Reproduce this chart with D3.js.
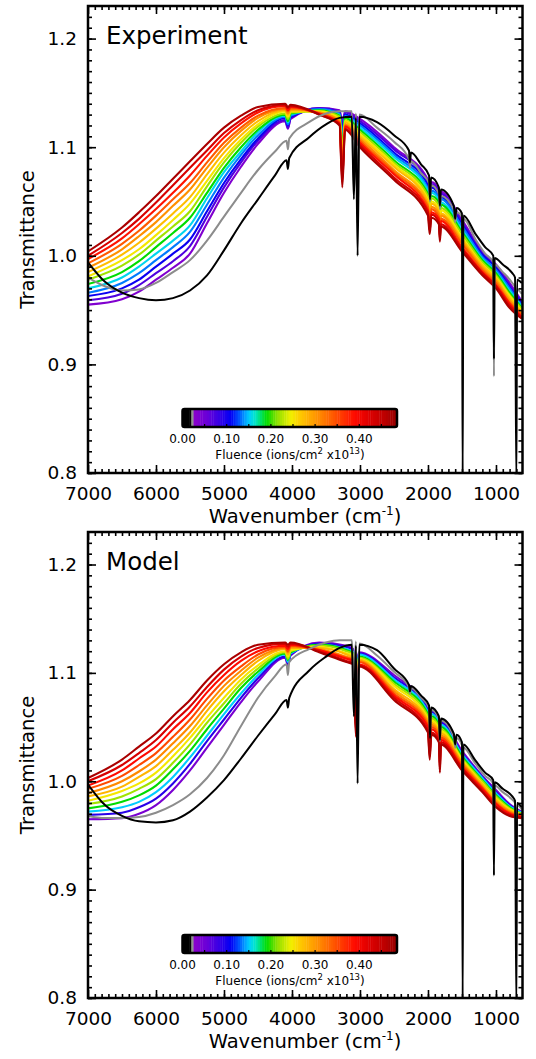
<!DOCTYPE html>
<html><head><meta charset="utf-8">
<script src="https://cdn.jsdelivr.net/npm/d3@7"></script>
<style>
html,body{margin:0;padding:0;background:#fff;}
svg{display:block;}
</style></head><body>
<svg id="chart" width="536" height="1059"></svg>
<script>
// ---------------- DATA ----------------
const xTickValues = [7000, 6000, 5000, 4000, 3000, 2000, 1000];
const yTickValues = [0.8, 0.9, 1.0, 1.1, 1.2];
const cbTickValues = [0.00, 0.10, 0.20, 0.30, 0.40];
const panelTitles = ['Experiment', 'Model'];

// fluence -> colour (colour bar of the figure)
const fluenceStops  = [0, 0.022, 0.0225, 0.027, 0.0275, 0.055, 0.085, 0.11, 0.13, 0.15, 0.165, 0.19, 0.215, 0.245, 0.27, 0.30, 0.33, 0.36, 0.39, 0.42, 0.455, 0.49];
const fluenceColors = ['#000000','#000000','#909090','#909090','#8800cc','#6a00d8','#3300e6','#0000f5','#0060ff','#00ccff','#00e6c8','#00dc00','#90e000','#f2f000','#ffc400','#ff9800','#ff6a00','#ff3a00','#ff0a00','#e00000','#c00000','#8c0000'];

// experiment: irradiated spectra (one row per wavenumber, one column per fluence)
const expFluence = [0.035, 0.07, 0.105, 0.135, 0.155, 0.19, 0.22, 0.25, 0.275, 0.305, 0.34, 0.385, 0.43, 0.47];
const expWn = [7000, 6500, 6250, 6000, 5750, 5500, 5250, 5000, 4750, 4500, 4100, 4060, 4020, 3600, 3300, 3260, 3220, 3000, 2500, 2000, 1975, 1950, 1840, 1825, 1810, 1500, 1200, 1000, 800, 620];
const expRows = [
 [0.955, 0.959, 0.963, 0.966, 0.970, 0.974, 0.978, 0.981, 0.985, 0.989, 0.993, 0.997, 1.000, 1.004],
 [0.960, 0.965, 0.970, 0.975, 0.980, 0.985, 0.991, 0.996, 1.001, 1.006, 1.011, 1.016, 1.021, 1.026],
 [0.967, 0.973, 0.978, 0.984, 0.990, 0.995, 1.001, 1.006, 1.012, 1.018, 1.023, 1.029, 1.034, 1.040],
 [0.978, 0.984, 0.990, 0.996, 1.002, 1.008, 1.014, 1.019, 1.025, 1.031, 1.037, 1.043, 1.049, 1.055],
 [0.989, 0.995, 1.002, 1.008, 1.014, 1.021, 1.027, 1.033, 1.039, 1.046, 1.052, 1.058, 1.065, 1.071],
 [1.002, 1.009, 1.015, 1.022, 1.028, 1.035, 1.041, 1.048, 1.054, 1.061, 1.067, 1.074, 1.081, 1.087],
 [1.030, 1.036, 1.041, 1.047, 1.053, 1.058, 1.064, 1.069, 1.075, 1.081, 1.086, 1.092, 1.097, 1.103],
 [1.058, 1.063, 1.067, 1.072, 1.077, 1.081, 1.086, 1.090, 1.095, 1.100, 1.104, 1.109, 1.113, 1.118],
 [1.082, 1.086, 1.089, 1.093, 1.096, 1.100, 1.104, 1.107, 1.111, 1.115, 1.118, 1.122, 1.125, 1.129],
 [1.103, 1.106, 1.108, 1.111, 1.114, 1.116, 1.119, 1.121, 1.124, 1.127, 1.129, 1.132, 1.134, 1.137],
 [1.124, 1.125, 1.127, 1.128, 1.129, 1.130, 1.131, 1.133, 1.134, 1.135, 1.136, 1.138, 1.139, 1.140],
 [1.117, 1.118, 1.120, 1.121, 1.123, 1.124, 1.126, 1.128, 1.130, 1.131, 1.133, 1.134, 1.136, 1.137],
 [1.126, 1.127, 1.128, 1.129, 1.130, 1.131, 1.132, 1.133, 1.134, 1.135, 1.136, 1.137, 1.138, 1.139],
 [1.136, 1.136, 1.135, 1.135, 1.134, 1.134, 1.133, 1.133, 1.132, 1.132, 1.131, 1.131, 1.130, 1.130],
 [1.134, 1.133, 1.132, 1.131, 1.130, 1.129, 1.128, 1.126, 1.125, 1.124, 1.123, 1.122, 1.121, 1.120],
 [1.122, 1.118, 1.113, 1.108, 1.104, 1.099, 1.095, 1.090, 1.086, 1.081, 1.077, 1.072, 1.068, 1.063],
 [1.133, 1.132, 1.130, 1.129, 1.128, 1.127, 1.125, 1.124, 1.123, 1.121, 1.120, 1.119, 1.117, 1.116],
 [1.126, 1.124, 1.122, 1.120, 1.118, 1.116, 1.114, 1.112, 1.110, 1.108, 1.106, 1.104, 1.102, 1.100],
 [1.100, 1.098, 1.095, 1.093, 1.091, 1.088, 1.086, 1.084, 1.082, 1.079, 1.077, 1.075, 1.072, 1.070],
 [1.070, 1.068, 1.065, 1.062, 1.060, 1.057, 1.055, 1.052, 1.050, 1.047, 1.045, 1.042, 1.040, 1.037],
 [1.057, 1.054, 1.051, 1.049, 1.046, 1.043, 1.040, 1.037, 1.034, 1.031, 1.029, 1.026, 1.023, 1.020],
 [1.068, 1.066, 1.063, 1.060, 1.058, 1.055, 1.053, 1.050, 1.048, 1.045, 1.043, 1.040, 1.038, 1.035],
 [1.061, 1.059, 1.056, 1.054, 1.051, 1.049, 1.046, 1.044, 1.041, 1.039, 1.036, 1.034, 1.031, 1.029],
 [1.047, 1.044, 1.042, 1.039, 1.037, 1.034, 1.031, 1.029, 1.026, 1.024, 1.021, 1.018, 1.016, 1.013],
 [1.059, 1.057, 1.054, 1.052, 1.049, 1.047, 1.044, 1.042, 1.039, 1.037, 1.034, 1.032, 1.029, 1.027],
 [1.033, 1.031, 1.029, 1.027, 1.024, 1.022, 1.020, 1.017, 1.015, 1.013, 1.011, 1.008, 1.006, 1.004],
 [1.004, 1.002, 1.001, 0.999, 0.997, 0.996, 0.994, 0.992, 0.991, 0.989, 0.987, 0.985, 0.984, 0.982],
 [0.992, 0.990, 0.989, 0.987, 0.985, 0.984, 0.982, 0.980, 0.979, 0.977, 0.975, 0.973, 0.972, 0.970],
 [0.975, 0.973, 0.971, 0.970, 0.968, 0.966, 0.964, 0.963, 0.961, 0.959, 0.957, 0.956, 0.954, 0.952],
 [0.958, 0.957, 0.956, 0.954, 0.953, 0.952, 0.951, 0.949, 0.948, 0.947, 0.946, 0.944, 0.943, 0.942]
];

// model: one row per wavenumber, one column per fluence
const modelFluence = [0.04, 0.09, 0.15, 0.19, 0.22, 0.25, 0.28, 0.31, 0.35, 0.39, 0.43, 0.47];
const modelWn = [7000, 6500, 6250, 6000, 5750, 5500, 5250, 5000, 4750, 4500, 4100, 4060, 4020, 3600, 3200, 3100, 3060, 3020, 2500, 2000, 1975, 1950, 1840, 1825, 1810, 1500, 1200, 1000, 800, 620];
const modelRows = [
 [0.965, 0.969, 0.972, 0.975, 0.979, 0.982, 0.986, 0.989, 0.993, 0.996, 1.000, 1.003],
 [0.966, 0.971, 0.976, 0.981, 0.986, 0.991, 0.995, 1.000, 1.005, 1.010, 1.015, 1.020],
 [0.970, 0.976, 0.981, 0.987, 0.993, 0.998, 1.004, 1.009, 1.015, 1.021, 1.026, 1.032],
 [0.978, 0.984, 0.990, 0.996, 1.002, 1.008, 1.014, 1.020, 1.026, 1.032, 1.038, 1.044],
 [0.992, 0.998, 1.004, 1.011, 1.017, 1.023, 1.029, 1.035, 1.041, 1.048, 1.054, 1.060],
 [1.010, 1.016, 1.022, 1.028, 1.034, 1.040, 1.045, 1.051, 1.057, 1.063, 1.069, 1.075],
 [1.031, 1.037, 1.042, 1.048, 1.054, 1.059, 1.065, 1.070, 1.076, 1.082, 1.087, 1.093],
 [1.052, 1.057, 1.062, 1.067, 1.072, 1.077, 1.083, 1.088, 1.093, 1.098, 1.103, 1.108],
 [1.073, 1.077, 1.081, 1.086, 1.090, 1.094, 1.098, 1.102, 1.106, 1.111, 1.115, 1.119],
 [1.092, 1.095, 1.098, 1.101, 1.104, 1.107, 1.111, 1.114, 1.117, 1.120, 1.123, 1.126],
 [1.114, 1.115, 1.117, 1.118, 1.119, 1.120, 1.122, 1.123, 1.124, 1.125, 1.127, 1.128],
 [1.107, 1.109, 1.110, 1.112, 1.113, 1.115, 1.117, 1.119, 1.120, 1.122, 1.124, 1.126],
 [1.116, 1.117, 1.118, 1.119, 1.120, 1.121, 1.123, 1.124, 1.125, 1.126, 1.127, 1.128],
 [1.128, 1.127, 1.126, 1.126, 1.125, 1.124, 1.123, 1.122, 1.121, 1.121, 1.120, 1.119],
 [1.125, 1.124, 1.122, 1.121, 1.120, 1.118, 1.117, 1.115, 1.114, 1.113, 1.111, 1.110],
 [1.122, 1.121, 1.119, 1.118, 1.117, 1.116, 1.114, 1.113, 1.112, 1.111, 1.109, 1.108],
 [1.090, 1.086, 1.081, 1.077, 1.072, 1.068, 1.063, 1.059, 1.054, 1.050, 1.046, 1.041],
 [1.119, 1.118, 1.117, 1.115, 1.114, 1.113, 1.112, 1.111, 1.110, 1.108, 1.107, 1.106],
 [1.098, 1.096, 1.094, 1.092, 1.090, 1.088, 1.085, 1.083, 1.081, 1.079, 1.077, 1.075],
 [1.068, 1.066, 1.064, 1.062, 1.060, 1.058, 1.056, 1.054, 1.052, 1.050, 1.047, 1.045],
 [1.056, 1.053, 1.049, 1.046, 1.043, 1.040, 1.036, 1.033, 1.030, 1.027, 1.023, 1.020],
 [1.066, 1.064, 1.062, 1.060, 1.058, 1.056, 1.054, 1.052, 1.050, 1.048, 1.045, 1.043],
 [1.058, 1.056, 1.054, 1.052, 1.050, 1.048, 1.046, 1.044, 1.042, 1.040, 1.038, 1.036],
 [1.046, 1.043, 1.039, 1.036, 1.032, 1.029, 1.025, 1.022, 1.018, 1.015, 1.011, 1.008],
 [1.056, 1.054, 1.052, 1.050, 1.048, 1.046, 1.044, 1.042, 1.040, 1.038, 1.036, 1.034],
 [1.028, 1.026, 1.025, 1.023, 1.021, 1.020, 1.018, 1.017, 1.015, 1.013, 1.012, 1.010],
 [1.005, 1.004, 1.003, 1.001, 1.000, 0.998, 0.997, 0.995, 0.994, 0.993, 0.991, 0.990],
 [0.992, 0.990, 0.989, 0.987, 0.986, 0.984, 0.983, 0.981, 0.980, 0.979, 0.977, 0.976],
 [0.979, 0.978, 0.977, 0.976, 0.975, 0.974, 0.973, 0.972, 0.971, 0.970, 0.969, 0.968],
 [0.972, 0.971, 0.971, 0.970, 0.970, 0.969, 0.969, 0.968, 0.968, 0.967, 0.967, 0.966]
];

// pristine (black) and lowest-fluence (grey) spectra
const refWn = [7000, 6750, 6500, 6250, 6000, 5750, 5500, 5250, 5000, 4750, 4500, 4250, 4080, 4060, 4040, 3750, 3500, 3300, 3120, 3090, 3060, 3035, 3010, 2750, 2500, 2280, 2265, 2250, 2100, 1985, 1970, 1955, 1840, 1825, 1810, 1620, 1600, 1580, 1500, 1490, 1480, 1300, 1160, 1040, 1030, 1020, 900, 760, 720, 700, 690, 620];
const expBlack = [0.994, 0.976, 0.966, 0.961, 0.959, 0.961, 0.968, 0.982, 1.005, 1.030, 1.052, 1.074, 1.088, 1.080, 1.090, 1.109, 1.121, 1.127, 1.128, 1.052, 1.127, 1.000, 1.128, 1.123, 1.111, 1.097, 1.086, 1.095, 1.084, 1.074, 1.052, 1.072, 1.063, 1.046, 1.061, 1.046, 1.034, 1.044, 1.039, 0.790, 1.037, 1.020, 1.008, 1.000, 0.905, 0.998, 0.992, 0.984, 0.980, 0.790, 0.978, 0.975];
const expGray  = [0.980, 0.972, 0.968, 0.969, 0.975, 0.985, 0.996, 1.014, 1.036, 1.058, 1.079, 1.096, 1.106, 1.098, 1.108, 1.123, 1.131, 1.133, 1.133, 1.062, 1.131, 1.030, 1.130, 1.118, 1.105, 1.089, 1.081, 1.087, 1.076, 1.067, 1.050, 1.065, 1.057, 1.043, 1.055, 1.042, 1.031, 1.040, 1.036, 0.950, 1.034, 1.015, 1.002, 0.994, 0.889, 0.992, 0.985, 0.975, 0.971, 0.900, 0.969, 0.965];
const modelBlack = [0.997, 0.978, 0.968, 0.963, 0.962, 0.964, 0.972, 0.985, 1.001, 1.021, 1.042, 1.062, 1.075, 1.068, 1.077, 1.102, 1.115, 1.123, 1.126, 1.060, 1.125, 0.998, 1.126, 1.121, 1.104, 1.089, 1.083, 1.088, 1.079, 1.070, 1.040, 1.068, 1.060, 1.038, 1.058, 1.044, 1.034, 1.043, 1.036, 0.790, 1.034, 1.019, 1.008, 1.001, 0.913, 0.999, 0.993, 0.986, 0.982, 0.790, 0.980, 0.976];
const modelGray  = [0.968, 0.966, 0.966, 0.967, 0.971, 0.978, 0.988, 1.003, 1.024, 1.051, 1.077, 1.097, 1.108, 1.098, 1.110, 1.122, 1.128, 1.130, 1.130, 1.095, 1.129, 1.040, 1.127, 1.116, 1.101, 1.087, 1.081, 1.086, 1.077, 1.068, 1.042, 1.066, 1.058, 1.037, 1.056, 1.041, 1.031, 1.040, 1.033, 0.950, 1.031, 1.016, 1.005, 0.998, 0.930, 0.996, 0.990, 0.983, 0.980, 0.900, 0.978, 0.974];

// ---------------- DRAWING ----------------
const FONT = '"DejaVu Sans", "Liberation Sans", Arial, sans-serif';
const svg = d3.select('#chart').attr('font-family', FONT);
const plotLeft = 88, plotRight = 522.5;
const panelBoxes = [{top: 6, bottom: 473}, {top: 532, bottom: 998}];
const x = d3.scaleLinear().domain([7000, 610]).range([plotLeft, plotRight]);
const color = d3.scaleLinear().domain(fluenceStops).range(fluenceColors).interpolate(d3.interpolateRgb).clamp(true);

const panels = [
  {wn: expWn, rows: expRows, fluence: expFluence, black: expBlack, gray: expGray},
  {wn: modelWn, rows: modelRows, fluence: modelFluence, black: modelBlack, gray: modelGray}
];

function styleAxis(sel, fontSize) {
  sel.select('.domain').remove();
  sel.attr('font-family', FONT).attr('font-size', fontSize);
  sel.selectAll('line').attr('stroke', '#000').attr('stroke-width', 1.6);
  sel.selectAll('text').attr('fill', '#000');
}

panels.forEach((cfg, idx) => {
  const {top, bottom} = panelBoxes[idx];
  const y = d3.scaleLinear().domain([0.8, 1.23]).range([bottom, top]);
  const g = svg.append('g');
  const clipId = 'clip' + idx;
  svg.append('clipPath').attr('id', clipId).append('rect')
    .attr('x', plotLeft).attr('y', top).attr('width', plotRight - plotLeft).attr('height', bottom - top);

  const line = d3.line().x(d => x(d[0])).y(d => y(d[1])).curve(d3.curveMonotoneX);
  const plot = g.append('g').attr('clip-path', `url(#${clipId})`);

  cfg.fluence.forEach((f, k) => {
    plot.append('path')
      .datum(cfg.wn.map((w, i) => [w, cfg.rows[i][k]]))
      .attr('d', line).attr('fill', 'none')
      .attr('stroke', color(f)).attr('stroke-width', 2.1).attr('stroke-linejoin', 'round');
  });
  plot.append('path').datum(refWn.map((w, i) => [w, cfg.gray[i]]))
    .attr('d', line).attr('fill', 'none').attr('stroke', '#8c8c8c').attr('stroke-width', 2);
  plot.append('path').datum(refWn.map((w, i) => [w, cfg.black[i]]))
    .attr('d', line).attr('fill', 'none').attr('stroke', '#000').attr('stroke-width', 2);

  // axes (ticks point inward)
  const xMinor = d3.range(700, 7000, 100);
  const yMinor = d3.range(80, 123).map(v => v / 100);
  g.append('g').attr('transform', `translate(0,${bottom})`)
    .call(d3.axisBottom(x).tickValues(xMinor).tickSize(-4).tickFormat(''))
    .call(s => styleAxis(s, 18.5));
  g.append('g').attr('transform', `translate(0,${bottom})`)
    .call(d3.axisBottom(x).tickValues(xTickValues).tickSize(-8).tickPadding(14).tickFormat(d3.format('d')))
    .call(s => styleAxis(s, 18.5));
  g.append('g').attr('transform', `translate(0,${top})`)
    .call(d3.axisTop(x).tickValues(xMinor).tickSize(-4).tickFormat(''))
    .call(s => styleAxis(s, 18.5));
  g.append('g').attr('transform', `translate(0,${top})`)
    .call(d3.axisTop(x).tickValues(xTickValues).tickSize(-8).tickFormat(''))
    .call(s => styleAxis(s, 18.5));
  g.append('g').attr('transform', `translate(${plotLeft},0)`)
    .call(d3.axisLeft(y).tickValues(yMinor).tickSize(-4).tickFormat(''))
    .call(s => styleAxis(s, 18.5));
  g.append('g').attr('transform', `translate(${plotLeft},0)`)
    .call(d3.axisLeft(y).tickValues(yTickValues).tickSize(-8).tickPadding(11).tickFormat(d3.format('.1f')))
    .call(s => styleAxis(s, 18.5));
  g.append('g').attr('transform', `translate(${plotRight},0)`)
    .call(d3.axisRight(y).tickValues(yMinor).tickSize(-4).tickFormat(''))
    .call(s => styleAxis(s, 18.5));
  g.append('g').attr('transform', `translate(${plotRight},0)`)
    .call(d3.axisRight(y).tickValues(yTickValues).tickSize(-8).tickFormat(''))
    .call(s => styleAxis(s, 18.5));

  g.append('rect').attr('x', plotLeft).attr('y', top)
    .attr('width', plotRight - plotLeft).attr('height', bottom - top)
    .attr('fill', 'none').attr('stroke', '#000').attr('stroke-width', 2.5);

  // panel title
  g.append('text').attr('x', 106).attr('y', top + 37.5)
    .attr('font-size', 24.5).attr('fill', '#000').text(panelTitles[idx]);

  // axis titles
  const xt = g.append('text').attr('x', 305).attr('y', bottom + 50)
    .attr('text-anchor', 'middle').attr('font-size', 19.5).attr('fill', '#000');
  xt.append('tspan').text('Wavenumber (cm');
  xt.append('tspan').attr('font-size', 12).attr('dy', -8).text('-1');
  xt.append('tspan').attr('dy', 8).text(')');

  g.append('text').attr('transform', `translate(34,${(top + bottom) / 2}) rotate(-90)`)
    .attr('text-anchor', 'middle').attr('font-size', 19.5).attr('fill', '#000').text('Transmittance');

  // colour bar
  const cbTop = top + 403, cbBottom = top + 421;
  const cbX = d3.scaleLinear().domain([0, 0.1]).range([182.5, 226.7]);
  const cbEnd = cbX.invert(397);
  const cells = d3.range(0, cbEnd, 0.005);
  g.append('g').selectAll('rect').data(cells).join('rect')
    .attr('x', d => cbX(d)).attr('y', cbTop)
    .attr('width', d => Math.min(cbX(d + 0.005), 397) - cbX(d) + 0.4)
    .attr('height', cbBottom - cbTop)
    .attr('fill', d => color(d + 0.0025));
  g.append('g').selectAll('line').data(d3.range(0.05, 0.46, 0.05)).join('line')
    .attr('x1', d => cbX(d)).attr('x2', d => cbX(d))
    .attr('y1', cbBottom - 3).attr('y2', cbBottom).attr('stroke', '#000').attr('stroke-width', 1.2);
  g.append('rect').attr('x', 182.5).attr('y', cbTop).attr('width', 397 - 182.5).attr('height', cbBottom - cbTop)
    .attr('rx', 2).attr('fill', 'none').attr('stroke', '#000').attr('stroke-width', 2.5);
  g.append('g').selectAll('text').data(cbTickValues).join('text')
    .attr('x', d => cbX(d)).attr('y', cbBottom + 16).attr('text-anchor', 'middle')
    .attr('font-size', 12).attr('fill', '#000').text(d => d3.format('.2f')(d));
  const ft = g.append('text').attr('x', 290).attr('y', cbBottom + 32)
    .attr('text-anchor', 'middle').attr('font-size', 12).attr('fill', '#000');
  ft.append('tspan').text('Fluence (ions/cm');
  ft.append('tspan').attr('font-size', 8.5).attr('dy', -5).text('2');
  ft.append('tspan').attr('dy', 5).text(' x10');
  ft.append('tspan').attr('font-size', 8.5).attr('dy', -5).text('13');
  ft.append('tspan').attr('dy', 5).text(')');
});
</script>
</body></html>
